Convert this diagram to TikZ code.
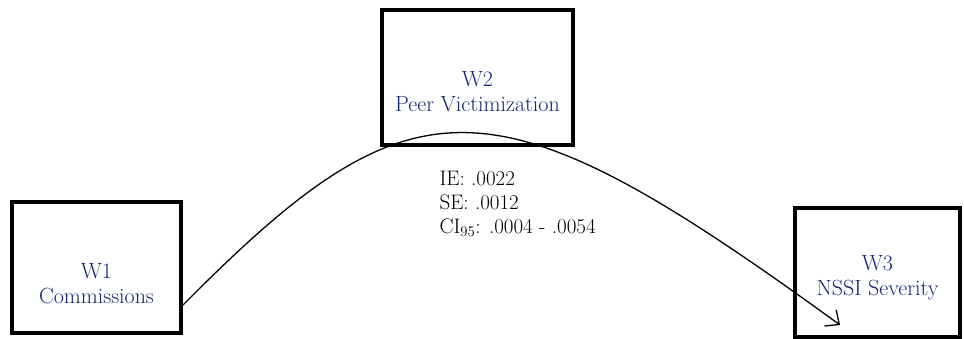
\documentclass[tikz,border=0pt]{standalone}
\usetikzlibrary{arrows.meta}
\definecolor{labelblue}{RGB}{18,38,110}
\tikzset{
  varbox/.style={draw, line width=4pt, minimum width=#1, inner sep=0pt},
  varlabel/.style={text=labelblue, align=center, font=\fontsize{22}{25}\selectfont},
}
\begin{document}
\begin{tikzpicture}[x=1pt,y=1pt]
\useasboundingbox (0,0) rectangle (964,339);

\node[varbox=169pt, minimum height=131pt] (w1) at (96.5,71.5) {};
\node[varbox=191pt, minimum height=135pt] (w2) at (477.5,261.5) {};
\node[varbox=165pt, minimum height=129pt] (w3) at (877.5,66.5) {};

\node[varlabel] (w1text) at ([yshift=-16pt]w1.center) {W1\\Commissions};
\node[varlabel] (w2text) at ([yshift=-14pt]w2.center) {W2\\Peer Victimization};
\node[varlabel] (w3text) at ([yshift=-5pt]w3.center) {W3\\NSSI Severity};

\coordinate (tip) at (840,14);
\draw[line width=1.3pt, -{Straight Barb[length=11pt,width=20pt]}] (w1.east |- 0,34) .. controls (414,267) and (492,267) .. (tip);

\node[anchor=north west, align=left, font=\fontsize{21}{24}\selectfont] (effect) at (436,171) {IE: .0022\\SE: .0012\\CI\textsubscript{95}: .0004 - .0054};
\end{tikzpicture}
\end{document}
